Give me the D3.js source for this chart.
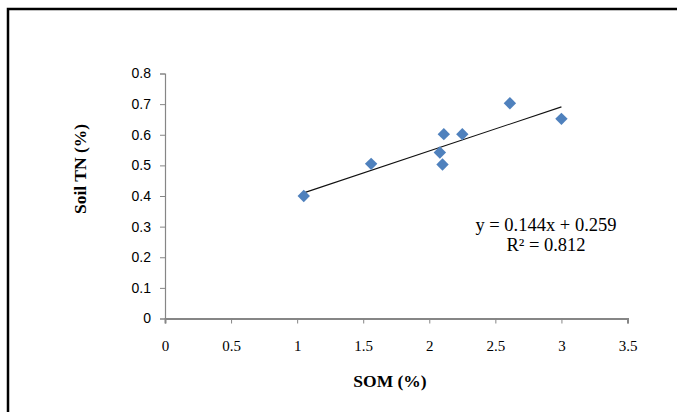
<!DOCTYPE html>
<html>
<head>
<meta charset="utf-8">
<script src="https://cdn.jsdelivr.net/npm/d3@7"></script>
<style>
  body { margin: 0; background: #fff; }
  svg { display: block; }
</style>
</head>
<body>
<script>
// values
const somValues = [1.05, 1.56, 2.08, 2.10, 2.11, 2.25, 2.61, 3.00];
const tnValues  = [0.40, 0.505, 0.542, 0.503, 0.602, 0.602, 0.703, 0.652];
const xTicks = [0, 0.5, 1, 1.5, 2, 2.5, 3, 3.5];
const yTicks = [0, 0.1, 0.2, 0.3, 0.4, 0.5, 0.6, 0.7, 0.8];
const slope = 0.144, intercept = 0.259;
const eqLines = ["y = 0.144x + 0.259", "R\u00b2 = 0.812"];

const W = 677, H = 412;
const svg = d3.select("body").append("svg").attr("width", W).attr("height", H);

// outer frame (only top and left visible)
svg.append("rect").attr("x", 8).attr("y", 9).attr("width", 700).attr("height", 420)
  .attr("fill", "none").attr("stroke", "#000").attr("stroke-width", 2.5);

const x = d3.scaleLinear().domain([0, 3.5]).range([165, 627.5]);
const y = d3.scaleLinear().domain([0, 0.8]).range([318.5, 73.5]);

const axisColor = "#868686";
const serif = "'Liberation Serif', 'Times New Roman', serif";

// y axis
const gy = svg.append("g").attr("transform", "translate(165,0)")
  .call(d3.axisLeft(y).tickValues(yTicks).tickSize(5).tickPadding(9)
    .tickFormat(d => String(+d.toFixed(1))));
gy.select(".domain").attr("stroke", axisColor).attr("stroke-width", 1.2);
gy.selectAll(".tick line").attr("stroke", axisColor);
gy.selectAll(".tick text").attr("fill", "#000")
  .style("font-family", "'Liberation Sans', Arial, sans-serif").style("font-size", "14px");

// x axis
const gx = svg.append("g").attr("transform", "translate(0,318.5)")
  .call(d3.axisBottom(x).tickValues(xTicks).tickSize(5).tickPadding(17)
    .tickFormat(d => String(d)));
gx.select(".domain").attr("stroke", axisColor).attr("stroke-width", 2);
gx.selectAll(".tick line").attr("stroke", axisColor);
gx.selectAll(".tick text").attr("fill", "#000")
  .style("font-family", serif).style("font-size", "15px");

// trend line
const xr = d3.extent(somValues);
svg.append("line")
  .attr("x1", x(xr[0])).attr("y1", y(slope * xr[0] + intercept))
  .attr("x2", x(xr[1])).attr("y2", y(slope * xr[1] + intercept))
  .attr("stroke", "#111").attr("stroke-width", 1.1);

// diamond markers
const pts = somValues.map((v, i) => [v, tnValues[i]]);
svg.append("g").selectAll("path").data(pts).enter().append("path")
  .attr("d", d3.symbol().type(d3.symbolDiamond2).size(98))
  .attr("transform", d => `translate(${x(d[0])},${y(d[1])})`)
  .attr("fill", "#4F81BD");

// equation
svg.append("g").selectAll("text").data(eqLines).enter().append("text")
  .attr("x", 546).attr("y", (d, i) => 231 + i * 19.5)
  .attr("text-anchor", "middle")
  .style("font-family", serif).style("font-size", "18.5px")
  .text(d => d);

// axis titles
svg.append("text").attr("x", 390).attr("y", 387).attr("text-anchor", "middle")
  .style("font-family", serif)
  .style("font-size", "17.5px").style("font-weight", "bold").text("SOM (%)");

svg.append("text").attr("transform", "translate(86,169) rotate(-90)")
  .attr("text-anchor", "middle")
  .style("font-family", serif)
  .style("font-size", "17.5px").style("font-weight", "bold").text("Soil TN (%)");
</script>
</body>
</html>
